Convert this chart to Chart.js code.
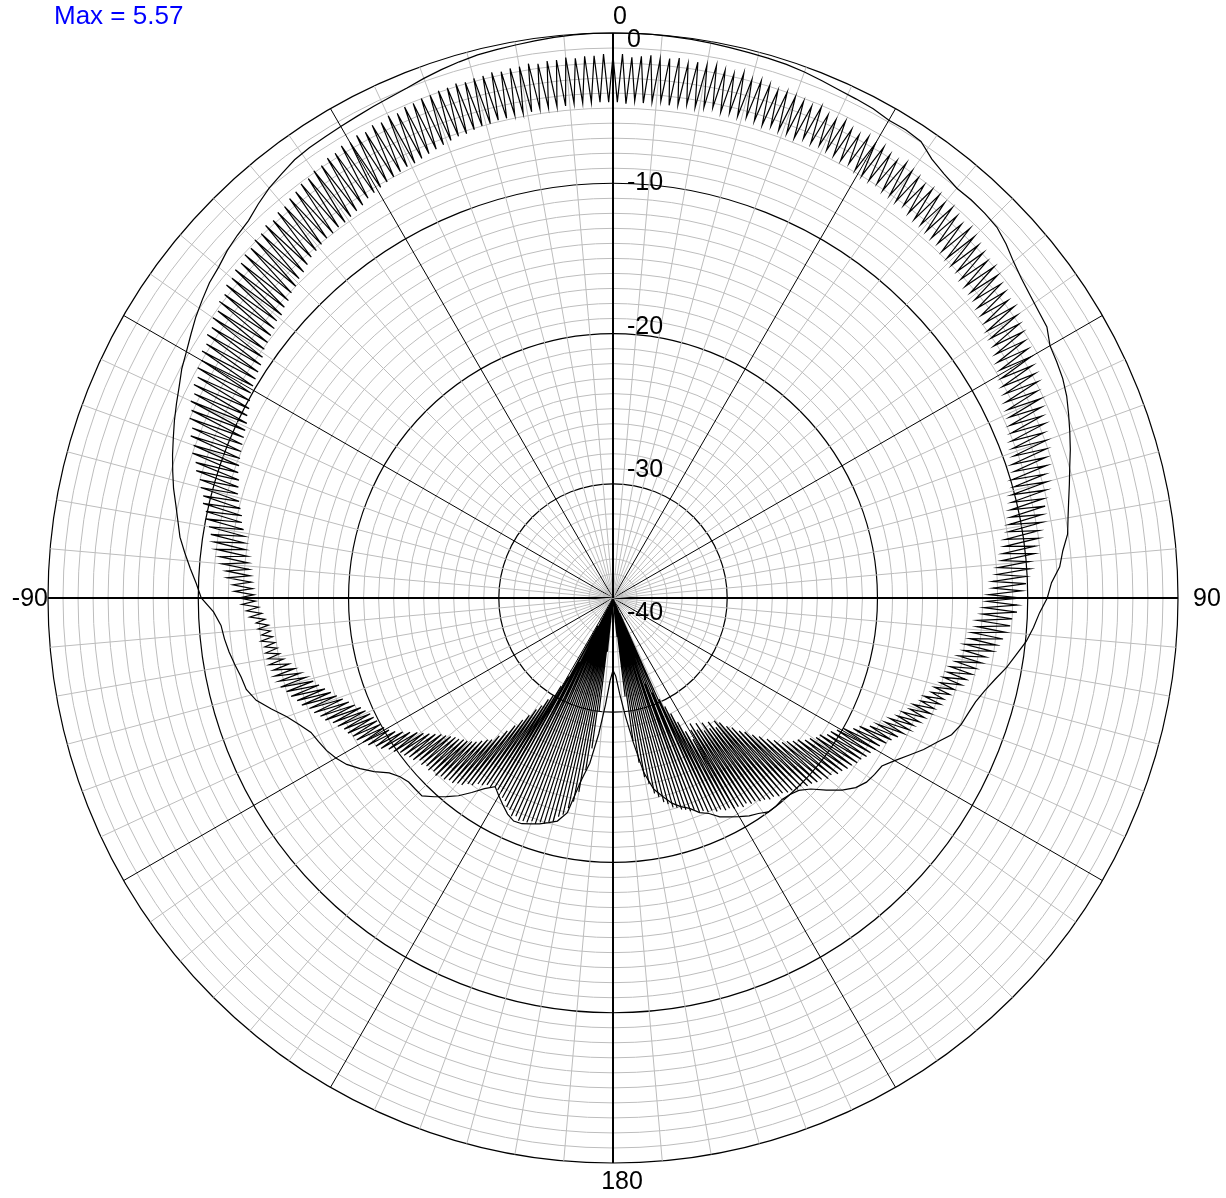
<!DOCTYPE html>
<html>
<head>
<meta charset="utf-8">
<script src="https://cdn.jsdelivr.net/npm/chart.js@4.4.0/dist/chart.umd.min.js"></script>
<style>
  html, body { margin: 0; padding: 0; background: #fff; }
  #wrap { width: 1226px; height: 1198px; position: relative; }
</style>
</head>
<body>
<div id="wrap"><canvas id="polarChart"></canvas></div>
<script>
// pattern readings in dB (0 dB = normalised max), angle 0 at top, clockwise
const maxLabel = 'Max = 5.57';
const angleTickLabels = ['0', '90', '180', '-90'];
const radialTickLabels = [0, -10, -20, -30, -40];

// outer trace, one value every 2 degrees (0, 2, ... 358)
const outerGain = [
  0, 0, 0, -0.03, -0.06, -0.1, -0.15, -0.19, -0.22, -0.26,
  -0.35, -0.48, -0.6, -0.66, -0.72, -0.88, -0.85, -0.95, -1.5, -1.8,
  -2.0, -1.96, -2.0, -2.08, -2.4, -2.8, -3.1, -3.3, -3.45, -3.55,
  -4.02, -4.15, -4.3, -4.55, -4.9, -5.25, -5.6, -5.98, -6.3, -6.6,
  -6.85, -7.05, -7.5, -7.8, -8.4, -8.7, -9.2, -9.55, -9.95, -10.5,
  -11.0, -11.6, -12.1, -12.5, -12.75, -12.95, -13.3, -14.0, -14.6, -15.3,
  -15.95, -16.5, -16.6, -16.75, -17.1, -17.7, -18.5, -19.3, -19.8, -20.0,
  -20.1, -20.0, -20.0, -20.3, -20.5, -20.8, -21.1, -21.4, -21.9, -22.2,
  -22.7, -23.0, -23.4, -24.0, -24.6, -25.8, -27.9, -29.7, -31.2, -32.4,
  -32.8, -32.1, -30.5, -28.5, -26.5, -25.2, -23.0, -22.3, -22.05, -21.8,
  -21.6, -21.4, -21.35, -21.6, -22.0, -22.4, -22.8, -22.3, -21.6, -20.9,
  -20.35, -19.8, -19.3, -19.3, -19.3, -19.1, -18.7, -17.95, -17.3, -16.7,
  -16.3, -16.0, -15.8, -15.6, -15.1, -14.5, -13.7, -12.9, -12.45, -12.3,
  -12.05, -11.8, -11.6, -11.45, -11.0, -10.2, -9.85, -9.4, -8.95, -8.5,
  -8.2, -7.86, -7.46, -7.12, -6.78, -6.46, -6.12, -5.8, -5.48, -5.1,
  -4.82, -4.48, -4.12, -3.82, -3.52, -3.34, -3.05, -2.85, -2.68, -2.32,
  -2.0, -1.78, -1.55, -1.46, -1.42, -1.36, -1.3, -1.21, -1.12, -1.0,
  -0.8, -0.63, -0.48, -0.35, -0.29, -0.23, -0.16, -0.09, -0.03, 0
];

// inner trace at whole degrees (0 ... 359)
const peakGain = [
  -1.5, -1.4, -1.6, -1.5, -1.4, -1.6, -1.5, -1.4, -1.7, -1.5,
  -1.6, -1.5, -1.7, -1.8, -1.6, -1.9, -1.8, -1.9, -2.1, -2.0,
  -2.1, -2.2, -2.3, -2.1, -2.4, -2.5, -2.3, -2.6, -2.7, -2.5,
  -2.7, -2.6, -2.8, -2.9, -2.7, -2.9, -3.0, -3.2, -3.1, -3.1,
  -3.3, -3.2, -3.4, -3.6, -3.4, -3.6, -3.8, -3.9, -4.1, -4.0,
  -4.2, -4.4, -4.5, -4.7, -4.6, -4.8, -5.0, -5.1, -5.3, -5.4,
  -5.5, -5.7, -5.8, -5.9, -6.2, -6.2, -6.4, -6.6, -6.6, -6.9,
  -6.9, -7.1, -7.3, -7.4, -7.7, -7.7, -7.9, -8.2, -8.2, -8.5,
  -8.6, -8.9, -9.0, -9.3, -9.4, -9.8, -9.8, -10.1, -10.1, -10.4,
  -10.4, -10.7, -10.7, -11.0, -11.1, -11.4, -11.5, -11.9, -12.1, -12.5,
  -12.7, -13.0, -13.2, -13.5, -13.7, -14.1, -14.3, -14.6, -14.7, -15.0,
  -15.1, -15.4, -15.6, -15.9, -16.0, -16.3, -16.5, -16.8, -17.0, -17.3,
  -17.4, -17.6, -17.7, -17.9, -18.0, -18.2, -18.3, -18.5, -18.6, -18.9,
  -18.9, -19.2, -19.3, -19.5, -19.6, -19.9, -19.9, -20.1, -20.2, -20.4,
  -20.4, -20.6, -20.6, -20.8, -20.9, -21.1, -21.1, -21.3, -21.2, -21.4,
  -21.4, -21.6, -21.6, -21.8, -21.8, -22.0, -22.0, -22.2, -22.2, -22.5,
  -22.5, -22.7, -22.8, -23.0, -23.1, -23.4, -23.6, -24.0, -24.3, -25.0,
  -25.5, -26.5, -28.0, -31.0, -35.0, -37.0, -37.2, -37.4, -37.5, -37.5,
  -37.5, -37.5, -37.4, -37.2, -37.0, -36.5, -34.0, -30.0, -27.5, -26.0,
  -24.5, -23.8, -23.3, -22.8, -22.6, -22.2, -22.1, -21.9, -21.9, -21.7,
  -21.8, -21.6, -21.6, -21.5, -21.7, -21.6, -21.9, -22.0, -22.3, -22.4,
  -22.7, -22.7, -22.8, -22.6, -22.6, -22.4, -22.3, -22.0, -21.9, -21.6,
  -21.5, -21.3, -21.3, -21.1, -21.1, -20.9, -21.0, -20.8, -20.9, -20.7,
  -20.8, -20.5, -20.4, -20.2, -20.1, -19.8, -19.6, -19.2, -19.0, -18.6,
  -18.4, -18.1, -18.0, -17.8, -17.7, -17.4, -17.2, -16.8, -16.6, -16.3,
  -16.1, -15.7, -15.5, -15.2, -15.0, -14.7, -14.7, -14.5, -14.5, -14.3,
  -14.3, -14.2, -14.2, -14.0, -14.1, -13.9, -13.8, -13.4, -13.2, -12.9,
  -12.7, -12.4, -12.3, -11.9, -11.8, -11.5, -11.3, -11.0, -10.8, -10.5,
  -10.3, -10.0, -9.9, -9.6, -9.5, -9.2, -9.0, -8.6, -8.4, -8.0,
  -7.9, -7.5, -7.4, -7.0, -6.9, -6.6, -6.6, -6.3, -6.3, -6.0,
  -6.0, -5.7, -5.7, -5.4, -5.4, -5.1, -5.1, -4.8, -4.8, -4.5,
  -4.5, -4.3, -4.3, -4.1, -4.1, -3.9, -3.9, -3.7, -3.8, -3.6,
  -3.6, -3.4, -3.3, -3.1, -3.1, -2.9, -2.9, -2.7, -2.7, -2.5,
  -2.6, -2.4, -2.5, -2.3, -2.4, -2.2, -2.3, -2.1, -2.1, -2.0,
  -2.0, -1.9, -1.9, -1.8, -1.9, -1.8, -1.8, -1.7, -1.8, -1.7,
  -1.7, -1.6, -1.7, -1.6, -1.6, -1.5, -1.6, -1.5, -1.5, -1.4
];

// inner trace at half degrees (0.5 ... 359.5)
const troughGain = [
  -4.6, -4.7, -4.5, -4.6, -4.5, -4.4, -4.6, -4.5, -4.4, -4.5,
  -4.4, -4.3, -4.5, -4.4, -4.5, -4.4, -4.5, -4.6, -4.5, -4.6,
  -4.6, -4.7, -4.5, -4.6, -4.5, -4.6, -4.7, -4.8, -4.7, -4.9,
  -5.0, -5.0, -4.9, -5.1, -5.1, -5.2, -5.1, -5.3, -5.4, -5.4,
  -5.5, -5.6, -5.6, -5.8, -5.9, -6.0, -6.0, -6.2, -6.3, -6.3,
  -6.4, -6.6, -6.7, -6.8, -7.0, -7.1, -7.2, -7.4, -7.6, -7.7,
  -7.9, -8.1, -8.2, -8.4, -8.5, -8.6, -8.8, -8.9, -9.1, -9.2,
  -9.3, -9.6, -9.6, -9.9, -9.9, -10.2, -10.3, -10.5, -10.6, -10.8,
  -10.9, -11.2, -11.3, -11.5, -11.6, -11.9, -12.0, -12.3, -12.3, -12.6,
  -12.7, -12.9, -13.0, -13.3, -13.3, -13.6, -13.7, -14.0, -14.0, -14.3,
  -14.4, -14.7, -14.8, -15.0, -15.1, -15.4, -15.5, -15.9, -16.0, -16.4,
  -16.5, -16.9, -17.1, -17.5, -17.7, -18.1, -18.5, -19.1, -19.4, -20.0,
  -20.3, -20.6, -20.7, -21.1, -21.2, -21.5, -21.7, -22.1, -22.3, -22.6,
  -22.8, -23.3, -23.7, -24.2, -24.6, -25.1, -25.4, -25.9, -26.2, -26.7,
  -27.0, -26.6, -27.2, -26.8, -27.4, -26.9, -27.6, -27.2, -27.8, -27.4,
  -26.8, -27.5, -28.3, -29.0, -29.6, -30.2, -36.5, -30.8, -37.2, -31.5,
  -37.4, -34.0, -37.5, -36.0, -37.5, -37.5, -37.0, -37.5, -37.5, -37.2,
  -37.5, -37.5, -37.5, -37.5, -37.5, -37.5, -37.5, -37.5, -37.5, -37.5,
  -37.5, -37.5, -37.5, -37.5, -37.5, -37.5, -37.5, -37.5, -37.5, -37.5,
  -37.5, -37.5, -37.2, -37.5, -37.5, -37.0, -37.5, -37.5, -36.8, -37.5,
  -37.5, -36.5, -37.5, -35.5, -37.4, -34.0, -36.8, -32.8, -35.5, -31.6,
  -30.8, -30.0, -29.6, -29.0, -28.6, -28.0, -27.5, -26.9, -26.3, -25.7,
  -25.2, -25.0, -24.7, -24.4, -24.2, -24.0, -23.9, -23.7, -23.6, -23.4,
  -23.2, -23.0, -22.7, -22.4, -22.1, -21.8, -21.4, -21.0, -20.6, -20.3,
  -20.1, -20.0, -19.9, -19.8, -19.7, -19.5, -19.3, -19.0, -18.7, -18.4,
  -18.1, -17.8, -17.5, -17.2, -16.9, -16.5, -16.2, -15.9, -15.6, -15.3,
  -15.1, -15.0, -14.9, -14.8, -14.7, -14.6, -14.4, -14.2, -14.0, -13.8,
  -13.7, -13.6, -13.5, -13.4, -13.3, -13.2, -13.1, -12.9, -12.8, -12.7,
  -12.6, -12.4, -12.3, -12.1, -11.9, -11.7, -11.6, -11.5, -11.3, -11.2,
  -11.1, -11.0, -10.9, -10.8, -10.7, -10.6, -10.4, -10.3, -10.1, -9.9,
  -9.8, -9.7, -9.6, -9.5, -9.3, -9.1, -9.0, -8.9, -8.8, -8.6,
  -8.6, -8.4, -8.3, -8.1, -8.0, -7.8, -7.7, -7.5, -7.3, -7.2,
  -7.1, -7.0, -7.0, -6.9, -6.9, -6.8, -6.7, -6.6, -6.4, -6.3,
  -6.2, -6.1, -6.0, -5.9, -5.8, -5.8, -5.7, -5.6, -5.5, -5.4,
  -5.3, -5.2, -5.2, -5.1, -5.0, -5.0, -4.9, -4.9, -4.8, -4.8,
  -4.8, -4.7, -4.7, -4.7, -4.7, -4.6, -4.6, -4.6, -4.6, -4.6
];

// half-degree angle grid used by the radar scale
const angles = Array.from({ length: 720 }, (_, i) => i / 2);

const outerData = angles.map((_, i) => (i % 4 === 0 ? outerGain[i / 4] : null));
const innerData = angles.map((_, i) => (i % 2 === 0 ? peakGain[i / 2] : troughGain[(i - 1) / 2]));

const FONT = '"Liberation Sans", Arial, Helvetica, sans-serif';

// axis texts are drawn on top of the chart
const textLayer = {
  id: 'textLayer',
  afterDraw(chart) {
    const scale = chart.scales.r;
    const ctx = chart.ctx;
    const cx = scale.xCenter;
    const cy = scale.yCenter;
    const R = scale.drawingArea;

    ctx.save();
    ctx.fillStyle = '#000';
    ctx.font = '25px ' + FONT;
    ctx.textBaseline = 'middle';

    ctx.textAlign = 'center';
    ctx.fillText(angleTickLabels[0], cx + 7, cy - R - 16);
    ctx.fillText(angleTickLabels[2], cx + 9, cy + R + 19);
    ctx.textAlign = 'left';
    ctx.fillText(angleTickLabels[1], cx + R + 15, cy + 1);
    ctx.textAlign = 'right';
    ctx.fillText(angleTickLabels[3], cx - R, cy + 1);

    // dB labels sit a little off the rings, evenly spaced
    ctx.textAlign = 'left';
    const step = R / 39.4;
    radialTickLabels.forEach(v => {
      ctx.fillText(String(v), cx + 14, cy - (R - 7 + v * step));
    });

    ctx.font = '26px ' + FONT;
    ctx.fillStyle = '#0000ff';
    ctx.fillText(maxLabel, 54, 17);
    ctx.restore();
  }
};

new Chart(document.getElementById('polarChart'), {
  type: 'radar',
  data: {
    labels: angles,
    datasets: [
      {
        label: 'outer',
        data: outerData,
        borderColor: '#000',
        borderWidth: 1.2,
        pointRadius: 0,
        pointHitRadius: 0,
        fill: false,
        spanGaps: true
      },
      {
        label: 'inner',
        data: innerData,
        borderColor: '#000',
        borderWidth: 1.2,
        pointRadius: 0,
        pointHitRadius: 0,
        fill: false
      }
    ]
  },
  options: {
    responsive: true,
    maintainAspectRatio: false,
    animation: false,
    layout: { padding: { left: 48, right: 48, top: 33, bottom: 35 } },
    elements: { line: { tension: 0 } },
    plugins: {
      legend: { display: false },
      tooltip: { enabled: false }
    },
    scales: {
      r: {
        min: -37.6,
        max: 0,
        startAngle: 0,
        ticks: { display: false, stepSize: 1 },
        pointLabels: { display: false },
        grid: {
          circular: true,
          color: c => (c.tick.value % 10 === 0 ? '#000' : '#bdbdbd'),
          lineWidth: c => (c.tick.value % 10 === 0 ? 1.2 : 1)
        },
        angleLines: {
          color: c => (c.index % 60 === 0 ? '#000' : '#bdbdbd'),
          lineWidth: c => {
            if (c.index % 180 === 0) return 2;
            if (c.index % 10 === 0) return 1;
            return 0;
          }
        }
      }
    }
  },
  plugins: [textLayer]
});
</script>
</body>
</html>
